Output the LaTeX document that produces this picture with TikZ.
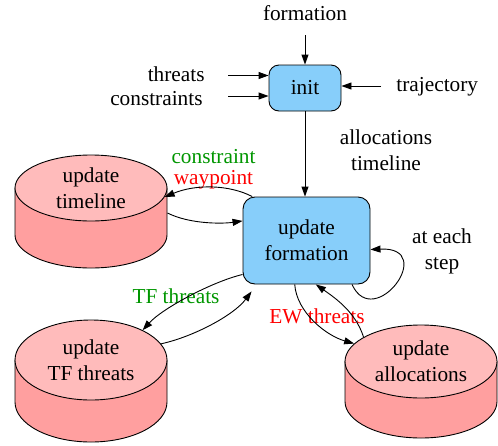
\documentclass[tikz,border=0pt]{standalone}
\usepackage{fontspec}
\setmainfont{Liberation Serif}
\usetikzlibrary{arrows.meta,shapes.geometric,calc}

\definecolor{boxblue}{HTML}{87CEFA}
\definecolor{drumtop}{HTML}{FFBBBB}
\definecolor{drumside}{HTML}{FF9F9F}
\definecolor{lblgreen}{HTML}{009600}

% body of a drum: cx, cy (top centre), rx, ry, height
\newcommand{\drumbody}[5]{%
  \filldraw[fill=drumside] (#1-#3,#2) -- ++(0,-#5)
    arc[start angle=180,end angle=360,x radius=#3pt,y radius=#4pt] -- ++(0,#5) -- cycle;}

\begin{document}
\begin{tikzpicture}[x=1pt,y=1pt,line width=0.9pt,
  every node/.style={font=\fontsize{21.3}{26}\selectfont},
  box/.style={rectangle,draw,fill=boxblue,align=center,inner sep=0pt},
  drum/.style={ellipse,draw,fill=drumtop,align=center,inner sep=0pt},
  lbl/.style={inner sep=0pt,align=center},
  arr/.style={-{Triangle[length=10pt,width=7pt]}}]
  \useasboundingbox (0,0) rectangle (498,-445);

  % process boxes
  \node[box,rounded corners=10pt,minimum width=72,minimum height=46] (init) at (305,-88) {init};
  \node[box,rounded corners=12pt,minimum width=127,minimum height=87] (form) at (306.5,-240.5) {update\\formation};

  % drums
  \drumbody{91}{-188}{76}{33}{47}
  \node[drum,minimum width=152,minimum height=66] (tl) at (91,-188) {update\\timeline};
  \drumbody{91}{-360}{76}{40}{42}
  \node[drum,minimum width=152,minimum height=80] (tf) at (91,-360) {update\\TF threats};
  \drumbody{421}{-361.5}{76}{36.5}{40}
  \node[drum,minimum width=152,minimum height=73] (al) at (421,-361.5) {update\\allocations};

  % inputs
  \node[lbl,anchor=base] (fmin) at (305,-20) {formation};
  \node[lbl,anchor=base east] (thr) at (205,-81.5) {threats};
  \node[lbl,anchor=base east] (cns) at (203,-105) {constraints};
  \node[lbl,anchor=base west] (trj) at (396,-91) {trajectory};
  \coordinate (fmin0) at (305,-35);
  \coordinate (thr0) at (228,-75.5);
  \coordinate (cns0) at (228,-96);
  \coordinate (trj0) at (381,-86);
  \draw[arr] (fmin0) -- (init.north);
  \draw[arr] (thr0) -- (thr0 -| init.west);
  \draw[arr] (cns0) -- (cns0 -| init.west);
  \draw[arr] (trj0) -- (trj0 -| init.east);
  \draw[arr] (init.south) -- (init.south |- form.north);
  \node[lbl] (alt) at (386,-150) {allocations\\timeline};

  % edge labels
  \node[lbl] (cwp) at (213.5,-169.5) {\color{lblgreen}constraint\\[-5.4pt]\color{red}waypoint};
  \node[lbl] (stp) at (442,-251.5) {at each\\step};
  \node[lbl,anchor=base,text=lblgreen] (tfl) at (176,-303.3) {TF threats};
  \node[lbl,anchor=base,text=red] (ewl) at (317,-323) {EW threats};

  % timeline
  \draw[arr] (form.141) .. controls +(-23,12) and +(31,13) .. (tl.-7);
  \draw[arr] ($(tl.east)+(0,-25)$) .. controls +(22,-11) and +(-21,-3) .. (form.163);
  % each step
  \draw[arr] (form.-44) .. controls +(22,-48) and +(68,3) .. (form.-8);
  % TF threats
  \draw[arr] (form.208) .. controls +(-30,-7) and +(20,22) .. (tf.30);
  \draw[arr] (tf.13) .. controls +(32,7) and +(-18,-24) .. ($(form.south west)+(9,-7)$);
  % EW threats
  \draw[arr] (form.255) .. controls +(2,-28) and +(-28,8) .. (al.165);
  \draw[arr] (al.157) .. controls +(-8,25) and +(20,-14) .. (form.-78);
\end{tikzpicture}
\end{document}
